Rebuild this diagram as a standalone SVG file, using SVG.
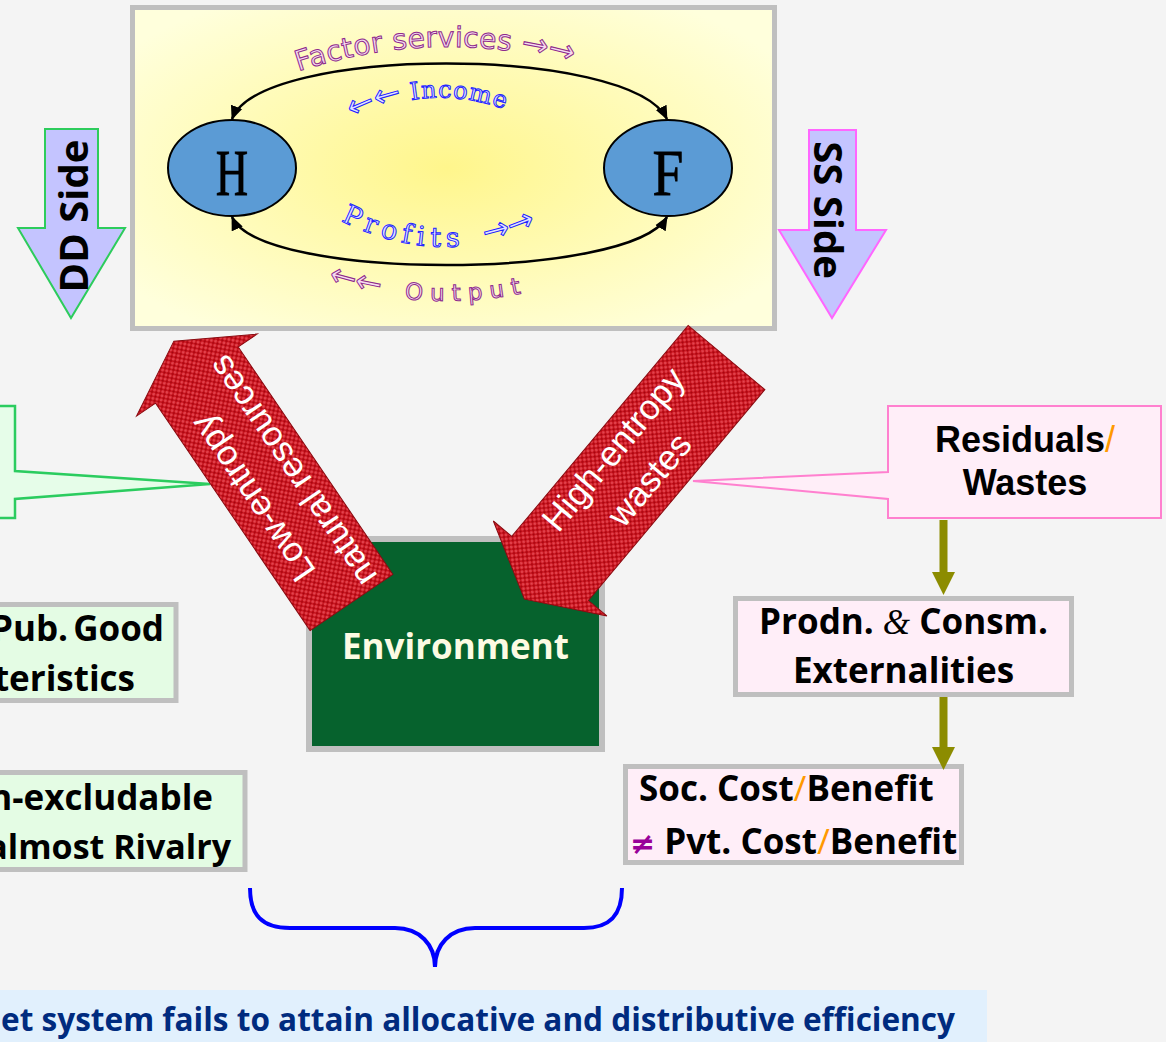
<svg xmlns="http://www.w3.org/2000/svg" width="1166" height="1042" viewBox="0 0 1166 1042">
  <style>
    .calibri { font-family: 'Open Sans', 'Noto Sans', 'DejaVu Sans', sans-serif; font-weight: 700; fill: #000; }
    .arial-b { font-family: 'Liberation Sans', Arial, sans-serif; font-weight: 700; fill: #000; }
    .gray-box { stroke: #bfbfbf; stroke-width: 5; }
    .slash { fill: #ff9900; font-weight: 400; }
    .wa-purple { font-family: 'DejaVu Sans', sans-serif; fill: #f7dcf1; stroke: #8e2b8c; stroke-width: 1; }
    .wa-blue { font-family: 'DejaVu Serif', serif; fill: #e2e4ff; stroke: #2424ff; stroke-width: 1; }
    .wa-arrow { font-family: 'DejaVu Sans', sans-serif; font-size: 32px; letter-spacing: 0; }
    .agent { fill: #5b9bd5; stroke: #000; stroke-width: 2; }
    .agent-label { font-family: 'Liberation Serif', 'Times New Roman', serif; font-size: 66px; fill: #000; stroke: #000; stroke-width: 0.8; text-anchor: middle; }
    .flow { fill: none; stroke: #000; stroke-width: 2.5; }
    .red-arrow { fill: url(#redWeave); stroke: #8a0a10; stroke-width: 1; }
    .arrow-label { font-family: 'Liberation Sans', Arial, sans-serif; font-size: 35px; fill: #fff; text-anchor: middle; }
    .olive { stroke: #8c8c00; stroke-width: 8; }
    .olive-head { fill: #8c8c00; }
  </style>
  <defs>
    <radialGradient id="sunGlow" cx="0.49" cy="0.5" r="0.62">
      <stop offset="0" stop-color="#fff68c"/>
      <stop offset="0.55" stop-color="#fffbb8"/>
      <stop offset="1" stop-color="#ffffdc"/>
    </radialGradient>
    <pattern id="redWeave" width="6" height="6" patternUnits="userSpaceOnUse">
      <rect width="6" height="6" fill="#c10c16"/>
      <circle cx="1.5" cy="1.5" r="1.4" fill="#e5454f"/>
      <circle cx="4.5" cy="4.5" r="1.4" fill="#e5454f"/>
      <circle cx="4.5" cy="1.5" r="0.7" fill="#9c0610"/>
      <circle cx="1.5" cy="4.5" r="0.7" fill="#9c0610"/>
    </pattern>
    <marker id="blackHead" viewBox="0 0 14 14" markerWidth="14" markerHeight="14" refX="13" refY="7" orient="auto-start-reverse" markerUnits="userSpaceOnUse">
      <path d="M0,1 L14,7 L0,13 Z" fill="#000"/>
    </marker>
    <path id="arcFactor" d="M285,76 Q437.5,21.5 590,69"/>
    <path id="arcIncome" d="M345,123 Q435,75 525,118"/>
    <path id="arcProfits" d="M330,215 Q445,279 560,215"/>
    <path id="arcOutput" d="M320,281 Q445,321 570,281"/>
  </defs>

  <!-- page -->
  <rect width="1166" height="1042" fill="#f4f4f4"/>

  <!-- circular flow economy -->
  <g id="economy">
    <rect x="132.5" y="7.5" width="642" height="321" fill="url(#sunGlow)" class="gray-box"/>
  </g>

  <g id="node-households">
    <ellipse class="agent" cx="232" cy="168" rx="64" ry="48"/>
    <text class="agent-label" transform="translate(232,195) scale(0.68,1)">H</text>
  </g>

  <g id="node-firms">
    <ellipse class="agent" cx="668" cy="168" rx="64" ry="48"/>
    <text class="agent-label" transform="translate(668,195) scale(0.84,1)">F</text>
  </g>

  <!-- demand / supply side markers -->
  <g id="dd-side">
    <polygon points="45,129 98,129 98,228 125,228 71,318 18,228 45,228" fill="#c4c4ff" stroke="#2dcc5c" stroke-width="2"/>
    <text class="calibri" font-size="40" text-anchor="middle" transform="translate(88,216) rotate(-90)">DD Side</text>
  </g>

  <g id="ss-side">
    <polygon points="809,130 856,130 856,230 886,230 832,318 779,230 809,230" fill="#c4c4ff" stroke="#ff66ff" stroke-width="2"/>
    <text class="calibri" font-size="40" text-anchor="middle" transform="translate(814,210) rotate(90)">SS Side</text>
  </g>

  <!-- callouts -->
  <g id="callout-resources">
    <path d="M-5,406 L15,406 L15,471 L210,484 L15,499 L15,518 L-5,518 Z" fill="#e6fde9" stroke="#2bcc5f" stroke-width="2.5"/>
  </g>

  <g id="callout-residuals">
    <path d="M888,406 L1161,406 L1161,518 L888,518 L888,499 L693,481 L888,472 Z" fill="#ffeef8" stroke="#ff80cf" stroke-width="2"/>
    <text class="arial-b" font-size="36" text-anchor="middle" x="1025" y="452">Residuals<tspan class="slash">/</tspan></text>
    <text class="arial-b" font-size="36" text-anchor="middle" x="1025" y="495">Wastes</text>
  </g>

  <!-- public good characteristics -->
  <g id="pub-good">
    <rect x="-10" y="604.5" width="186" height="96" fill="#e4fce4" class="gray-box"/>
    <text class="calibri" font-size="35" text-anchor="end" x="164" y="641" word-spacing="-4">Pub. Good</text>
    <text class="calibri" font-size="35" text-anchor="end" x="135" y="691">teristics</text>
  </g>

  <g id="non-excludable">
    <rect x="-10" y="772.5" width="255" height="97" fill="#e4fce4" class="gray-box"/>
    <text class="calibri" font-size="35" text-anchor="end" x="213" y="810">n-excludable</text>
    <text class="calibri" font-size="34" text-anchor="end" x="231" y="859">almost Rivalry</text>
  </g>

  <!-- environment -->
  <g id="environment">
    <rect x="309" y="539" width="293" height="210" fill="#06622d" stroke="#bfbfbf" stroke-width="6"/>
    <text class="calibri" font-size="35" text-anchor="middle" x="455.5" y="659" style="fill:#fdfbe3">Environment</text>
  </g>

  <!-- externalities chain -->
  <g id="externalities">
    <rect x="735.5" y="598.5" width="336" height="96" fill="#ffeef8" class="gray-box"/>
    <text class="calibri" font-size="35" text-anchor="middle" x="903.5" y="634">Prodn. <tspan font-family="'Liberation Serif', serif" font-style="italic" font-weight="400">&amp;</tspan> Consm.</text>
    <text class="calibri" font-size="35" text-anchor="middle" x="903.5" y="683">Externalities</text>
  </g>

  <g id="social-cost">
    <rect x="625.5" y="766.5" width="336" height="96" fill="#ffeef8" class="gray-box"/>
    <text class="calibri" font-size="35" x="639" y="801">Soc. Cost<tspan class="slash">/</tspan>Benefit</text>
    <text class="calibri" font-size="35" x="630" y="854"><tspan fill="#990099" font-size="30" font-family="'DejaVu Sans', sans-serif" font-weight="700">≠</tspan> Pvt. Cost<tspan class="slash">/</tspan>Benefit</text>
  </g>

  <!-- conclusion band -->
  <g id="conclusion">
    <rect x="0" y="990" width="987" height="52" fill="#e1f0fd"/>
    <text class="calibri" font-size="33" x="1" y="1031" textLength="954" lengthAdjust="spacingAndGlyphs" style="fill:#002b7f">et system fails to attain allocative and distributive efficiency</text>
  </g>

  <!-- connectors -->
  <g id="connectors">
    <!-- circular flow between households and firms -->
    <path class="flow" d="M232,119 C260,45 630,45 667,119" marker-start="url(#blackHead)" marker-end="url(#blackHead)"/>
    <path class="flow" d="M232,217 C260,281 630,281 667,217" marker-start="url(#blackHead)" marker-end="url(#blackHead)"/>

    <text class="wa-purple" font-size="28" letter-spacing="0.4"><textPath href="#arcFactor" startOffset="14">Factor services <tspan class="wa-arrow">→→</tspan></textPath></text>
    <text class="wa-blue" font-size="24" letter-spacing="1"><textPath href="#arcIncome" startOffset="8"><tspan class="wa-arrow">←←</tspan> Income</textPath></text>
    <text class="wa-blue" font-size="27" letter-spacing="5.5"><textPath href="#arcProfits" startOffset="12">Profits <tspan class="wa-arrow" dx="6">→→</tspan></textPath></text>
    <text class="wa-purple" font-size="23" letter-spacing="7.5"><textPath href="#arcOutput" startOffset="8"><tspan class="wa-arrow">←←</tspan> <tspan dx="10">Output</tspan></textPath></text>

    <!-- material flows with the environment -->
    <g id="low-entropy-flow" transform="translate(351.5,602.5) rotate(-124.2)">
      <polygon class="red-arrow" points="0,-50 275,-50 275,-73 316,0 275,73 275,50 0,50"/>
      <text class="arrow-label" x="142" y="-11">Low-entropy</text>
      <text class="arrow-label" x="142" y="37">natural resources</text>
    </g>
    <g id="high-entropy-flow">
      <polygon class="red-arrow" transform="translate(726.5,357.5) rotate(129.9)" points="0,-50 275,-50 275,-74 315,0 275,74 275,50 0,50"/>
      <g transform="translate(726.5,357.5) rotate(-50.1)">
        <text class="arrow-label" x="-143" y="-16">High-entropy</text>
        <text class="arrow-label" x="-143" y="31">wastes</text>
      </g>
    </g>

    <!-- residuals to externalities to social cost -->
    <line class="olive" x1="943.5" y1="520" x2="943.5" y2="574"/>
    <polygon class="olive-head" points="932,572 955,572 943.5,595"/>
    <line class="olive" x1="943.5" y1="697" x2="943.5" y2="749"/>
    <polygon class="olive-head" points="932,747 955,747 943.5,770"/>

    <!-- brace gathering the failures -->
    <path d="M250,888 C250,915 262,928 290,928 L395,928 C420,928 435,945 435,967 C435,945 450,928 475,928 L584,928 C610,928 622,915 622,888" fill="none" stroke="#0000ff" stroke-width="4"/>
  </g>
</svg>
